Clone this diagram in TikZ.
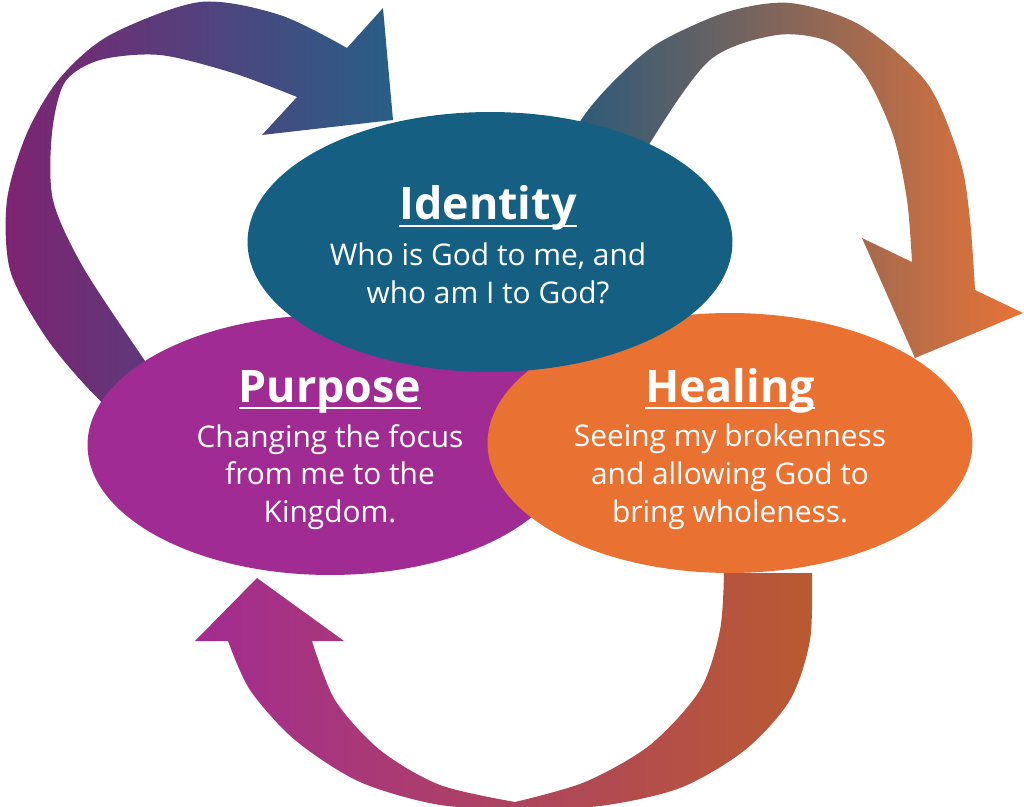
\documentclass[tikz,border=0pt]{standalone}
\usepackage{fontspec}
\setmainfont{Open Sans}
\usetikzlibrary{shapes.geometric,positioning}
\definecolor{idblue}{HTML}{156082}
\definecolor{purposepurple}{HTML}{A02B93}
\definecolor{healorange}{HTML}{E97132}
\newcommand\headul[1]{\setbox0\hbox{#1}\rlap{\rule[-4pt]{\wd0}{1.1pt}}\box0}
\tikzset{%
	bubble/.style = {ellipse, inner sep=0pt, minimum width=9.7cm, minimum height=5.2cm}, % circle of the cycle
	head/.style   = {text=white, font=\bfseries\fontsize{25.5}{29}\selectfont},
	body/.style   = {text=white, align=center, font=\fontsize{17}{21.5}\selectfont},
}

\begin{document}
\begin{tikzpicture}[x=0.02cm,y=-0.02cm]
	\useasboundingbox (0,0) rectangle (1024,807);
	% arrows
	\shade[left color={rgb,255:red,126;green,35;blue,114}, middle color={rgb,255:red,98;green,72;blue,138}, right color={rgb,255:red,40;green,95;blue,135}]
		plot[smooth] coordinates {(160,460) (85,385) (43,333) (10,270) (7,200) (27,133) (60,78) (110,35) (200,2) (280,15) (347,48)}
		-- (383,8) -- (393,120) -- (262,135) -- (297,97)
		-- plot[smooth] coordinates {(297,97) (233,73) (160,55) (100,60) (65,82) (52,133) (53,200) (83,267) (143,358) (200,440)}
		-- cycle;
	\shade[left color={rgb,255:red,30;green,88;blue,125}, middle color={rgb,255:red,100;green,78;blue,95}, right color={rgb,255:red,232;green,115;blue,55}]
		plot[smooth] coordinates {(540,190) (583,117) (620,75) (660,42) (727,12) (790,3) (860,25) (927,83) (960,160) (970,220) (975,290)}
		-- (1023,313) -- (915,358) -- (862,238) -- (912,262)
		-- plot[smooth] coordinates {(912,262) (907,200) (893,135) (865,75) (830,42) (777,35) (710,60) (650,143) (610,220)}
		-- cycle;
	\shade[left color={rgb,255:red,162;green,44;blue,146}, middle color={rgb,255:red,182;green,72;blue,105}, right color={rgb,255:red,185;green,90;blue,48}]
		plot[smooth] coordinates {(812,573) (810,640) (790,700) (745,750) (680,788) (600,806) (520,808) (440,805) (360,782) (295,740) (250,690) (228,641)}
		-- (195,641) -- (257,578) -- (344,641) -- (312,641)
		-- plot[smooth] coordinates {(312,641) (335,700) (380,750) (440,785) (515,802)}
		-- plot[smooth] coordinates {(515,802) (585,782) (650,745) (700,690) (720,630) (724,573)}
		-- cycle;

	% the three circles
	\node [bubble, fill=purposepurple] (purpose) at (330,445) {};
	\node [bubble, fill=healorange] (healing) at (730,443) {};
	\node [bubble, fill=idblue] (identity) at (490,242) {};

	\node [head, anchor=base] (idhead) at (488,220) {\headul{Identity}};
	\node [body] (idtext) at (488,273) {Who is God to me, and\\who am I to God?};
	\node [head, anchor=base] (purposehead) at (330,402) {\headul{Purpose}};
	\node [body] (purposetext) at (330,477) {Changing the focus\\from me to the\\Kingdom.};
	\node [head, anchor=base] (healinghead) at (730,402) {\headul{Healing}};
	\node [body] (healingtext) at (730,477) {Seeing my brokenness\\and allowing God to\\bring wholeness.};
\end{tikzpicture}
\end{document}
